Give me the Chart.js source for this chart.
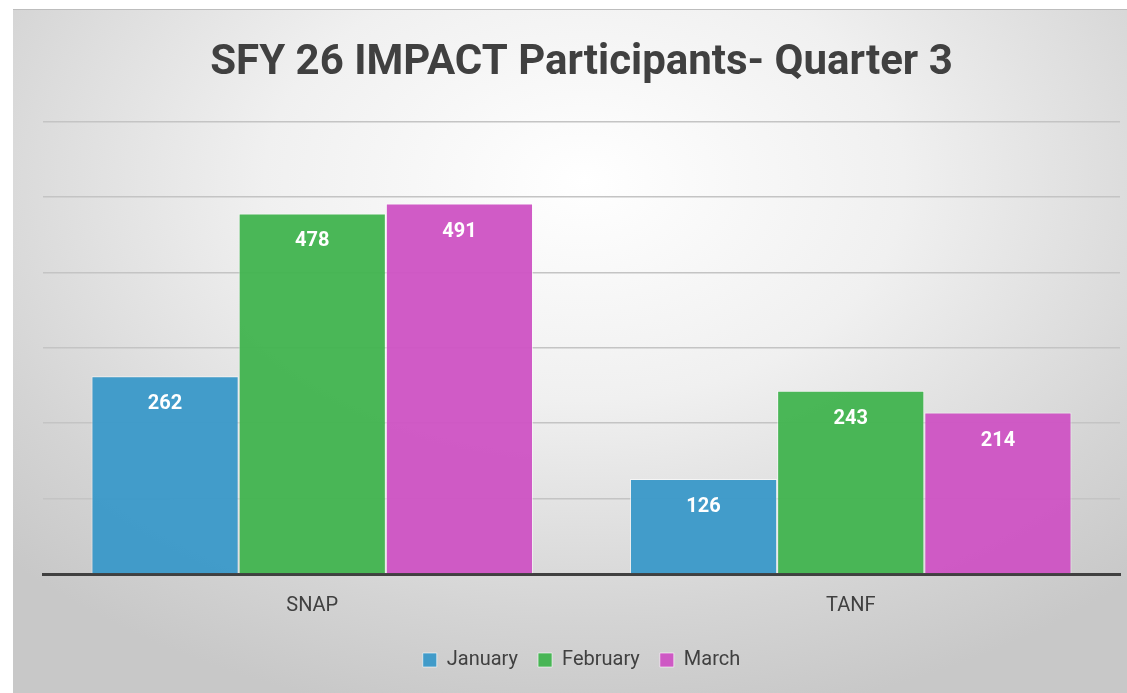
<!DOCTYPE html>
<html>
<head>
<meta charset="utf-8">
<script src="https://cdn.jsdelivr.net/npm/chart.js@4.4.1/dist/chart.umd.min.js"></script>
<style>
	html, body { margin: 0; padding: 0; background: #fff; overflow: hidden; width: 1127px; height: 693px; }
	#wrap {
		position: absolute; left: 13px; top: 9px; width: 1142px; height: 684px;
		border-top: 1px solid #bdbdbd;
		background: radial-gradient(ellipse 70% 80% at 50% 25%, #ffffff 0%, #f0f0f0 40%, #d4d4d4 80%, #c8c8c8 100%);
	}
</style>
</head>
<body>
<div id="wrap"><canvas id="chart"></canvas></div>
<script>
const categories = ["SNAP", "TANF"];
const january = [262, 126];
const february = [478, 243];
const march = [491, 214];
const seriesNames = ["January", "February", "March"];
const seriesColors = ["rgba(59,153,201,0.96)", "rgba(67,180,80,0.96)", "rgba(206,84,196,0.96)"];

// white value labels inside the top of each bar
const valueLabels = {
	id: 'valueLabels',
	afterDatasetsDraw(chart) {
		let ctx = chart.ctx;
		ctx.save();
		ctx.fillStyle = '#ffffff';
		ctx.font = 'bold 20px Roboto';
		ctx.textAlign = 'center';
		ctx.textBaseline = 'middle';
		chart.data.datasets.forEach(function (ds, i) {
			chart.getDatasetMeta(i).data.forEach(function (bar, j) {
				ctx.fillText(ds.data[j], bar.x, bar.y + 28);
			});
		});
		ctx.restore();
	}
};

let ctx = document.getElementById('chart');
ctx.width = 1142;
ctx.height = 684;

new Chart(ctx, {
	type: 'bar',
	data: {
		labels: categories,
		datasets: [january, february, march].map(function (d, i) {
			return {
				label: seriesNames[i],
				data: d,
				backgroundColor: seriesColors[i],
				borderColor: 'rgba(255,255,255,0.6)',
				borderWidth: 1,
				barPercentage: 1,
				categoryPercentage: 0.82
			};
		})
	},
	options: {
		responsive: false,
		animation: false,
		layout: { padding: { left: 30, right: 35, top: 10, bottom: 14 } },
		plugins: {
			title: {
				display: true,
				text: 'SFY 26 IMPACT Participants- Quarter 3',
				color: '#404040',
				font: { family: 'Roboto', size: 42, weight: 'bold' },
				padding: { top: 18, bottom: 33 }
			},
			legend: {
				position: 'bottom',
				labels: {
					color: '#404040',
					font: { family: 'Roboto', size: 20 },
					boxWidth: 14,
					boxHeight: 14,
					padding: 20
				}
			},
			tooltip: { enabled: false }
		},
		scales: {
			x: {
				grid: { display: false },
				border: { color: '#404040', width: 3 },
				ticks: { color: '#404040', font: { family: 'Roboto', size: 20 }, padding: 12 }
			},
			y: {
				min: 0,
				max: 600,
				ticks: { display: false, stepSize: 100 },
				border: { display: false },
				grid: { color: '#c4c4c4', lineWidth: 1.5, drawTicks: false }
			}
		}
	},
	plugins: [valueLabels]
});
</script>
</body>
</html>
